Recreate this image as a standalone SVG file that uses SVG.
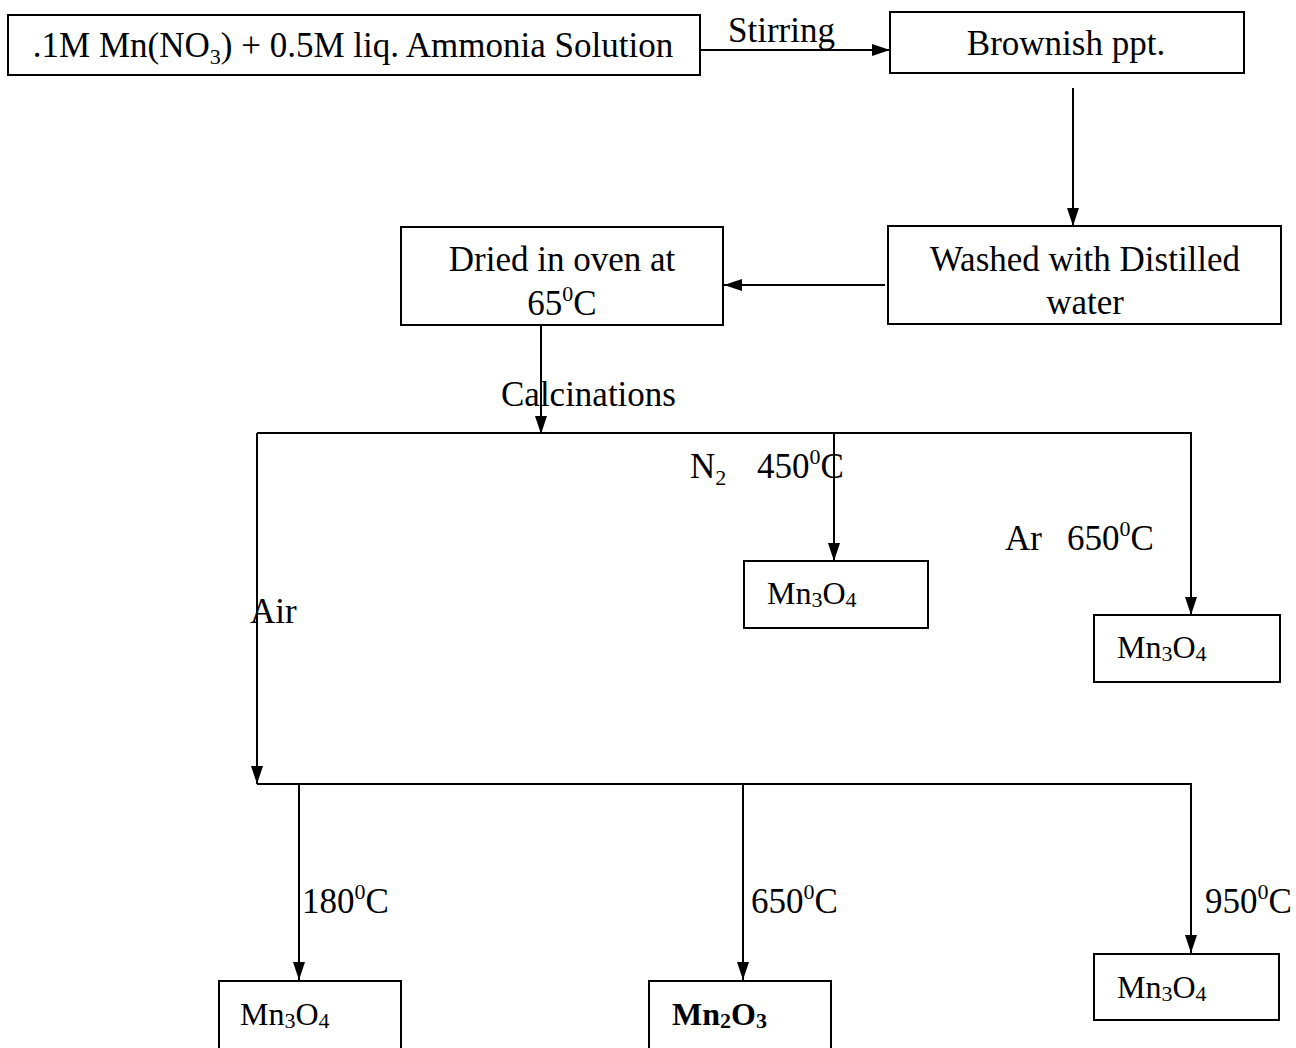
<svg xmlns="http://www.w3.org/2000/svg" width="1296" height="1048" viewBox="0 0 1296 1048">
<style>
.box{fill:#fff;stroke:#000;stroke-width:2}
.ln{fill:none;stroke:#000;stroke-width:2}
text{font-family:"Liberation Serif","Times New Roman",serif;fill:#000}
.t{font-size:35px}
.s{font-size:32px}
.sup{font-size:22px}
.sub{font-size:22px}
</style>
<defs>
<marker id="ar" viewBox="0 0 18 12" refX="18" refY="6" markerWidth="18" markerHeight="12" markerUnits="userSpaceOnUse" orient="auto">
<path d="M0,0 L18,6 L0,12 Z" fill="#000"/>
</marker>
</defs>
<g id="connectors">
<line class="ln" x1="700" y1="50" x2="890" y2="50" marker-end="url(#ar)"/>
<line class="ln" x1="1073" y1="88" x2="1073" y2="226" marker-end="url(#ar)"/>
<line class="ln" x1="885" y1="285" x2="724" y2="285" marker-end="url(#ar)"/>
<line class="ln" x1="541" y1="325" x2="541" y2="434" marker-end="url(#ar)"/>
<line class="ln" x1="257" y1="433" x2="1192" y2="433"/>
<line class="ln" x1="257" y1="433" x2="257" y2="784" marker-end="url(#ar)"/>
<line class="ln" x1="834" y1="433" x2="834" y2="561" marker-end="url(#ar)"/>
<line class="ln" x1="1191" y1="433" x2="1191" y2="615" marker-end="url(#ar)"/>
<line class="ln" x1="257" y1="784" x2="1192" y2="784"/>
<line class="ln" x1="299" y1="784" x2="299" y2="980" marker-end="url(#ar)"/>
<line class="ln" x1="743" y1="784" x2="743" y2="980" marker-end="url(#ar)"/>
<line class="ln" x1="1191" y1="784" x2="1191" y2="953" marker-end="url(#ar)"/>
<text class="t" x="728" y="42">Stirring</text>
<text class="t" x="501" y="406">Calcinations</text>
<text class="t" x="690" y="478">N<tspan class="sub" dy="7">2</tspan><tspan x="757" dy="-7">450</tspan><tspan class="sup" dy="-14">0</tspan><tspan dy="14">C</tspan></text>
<text class="t" x="1005" y="550">Ar<tspan x="1067">650</tspan><tspan class="sup" dy="-14">0</tspan><tspan dy="14">C</tspan></text>
<text class="t" x="250" y="623">Air</text>
<text class="t" x="302" y="913">180<tspan class="sup" dy="-14">0</tspan><tspan dy="14">C</tspan></text>
<text class="t" x="751" y="913">650<tspan class="sup" dy="-14">0</tspan><tspan dy="14">C</tspan></text>
<text class="t" x="1205" y="913">950<tspan class="sup" dy="-14">0</tspan><tspan dy="14">C</tspan></text>
</g>
<g id="n1">
<rect class="box" x="8" y="15" width="692" height="60"/>
<text class="t" x="353" y="57" text-anchor="middle">.1M Mn(NO<tspan class="sub" dy="7">3</tspan><tspan dy="-7">) + 0.5M liq. Ammonia Solution</tspan></text>
</g>
<g id="n2">
<rect class="box" x="890" y="12" width="354" height="61"/>
<text class="t" x="1066" y="55" text-anchor="middle">Brownish ppt.</text>
</g>
<g id="n3">
<rect class="box" x="888" y="226" width="393" height="98"/>
<text class="t" x="1085" y="271" text-anchor="middle">Washed with Distilled</text>
<text class="t" x="1085" y="314" text-anchor="middle">water</text>
</g>
<g id="n4">
<rect class="box" x="401" y="227" width="322" height="98"/>
<text class="t" x="562" y="271" text-anchor="middle">Dried in oven at</text>
<text class="t" x="562" y="315" text-anchor="middle">65<tspan class="sup" dy="-14">0</tspan><tspan dy="14">C</tspan></text>
</g>
<g id="n5">
<rect class="box" x="744" y="561" width="184" height="67"/>
<text class="s" x="767" y="604">Mn<tspan class="sub" dy="3">3</tspan><tspan dy="-3">O</tspan><tspan class="sub" dy="3">4</tspan></text>
</g>
<g id="n6">
<rect class="box" x="1094" y="615" width="186" height="67"/>
<text class="s" x="1117" y="658">Mn<tspan class="sub" dy="3">3</tspan><tspan dy="-3">O</tspan><tspan class="sub" dy="3">4</tspan></text>
</g>
<g id="n7">
<rect class="box" x="219" y="981" width="182" height="80"/>
<text class="s" x="240" y="1025">Mn<tspan class="sub" dy="3">3</tspan><tspan dy="-3">O</tspan><tspan class="sub" dy="3">4</tspan></text>
</g>
<g id="n8">
<rect class="box" x="649" y="981" width="182" height="80"/>
<text class="s" x="672" y="1025" font-weight="bold">Mn<tspan class="sub" dy="3">2</tspan><tspan dy="-3">O</tspan><tspan class="sub" dy="3">3</tspan></text>
</g>
<g id="n9">
<rect class="box" x="1094" y="954" width="185" height="66"/>
<text class="s" x="1117" y="998">Mn<tspan class="sub" dy="3">3</tspan><tspan dy="-3">O</tspan><tspan class="sub" dy="3">4</tspan></text>
</g>
</svg>
